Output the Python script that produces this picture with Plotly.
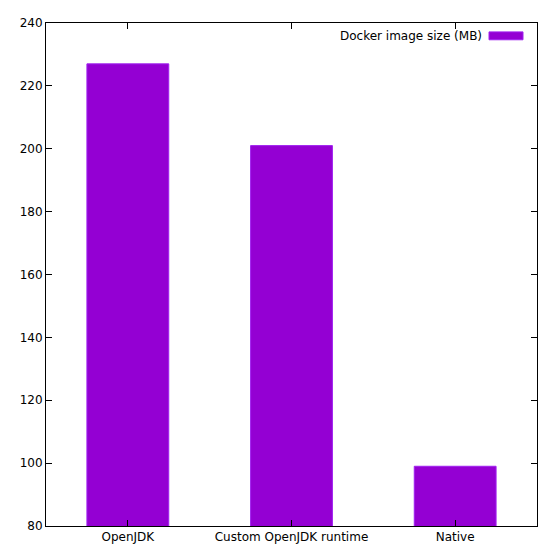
import plotly.graph_objects as go

categories = ["OpenJDK", "Custom OpenJDK runtime", "Native"]
sizes_mb = [227, 201, 99]
y_ticks = [80, 100, 120, 140, 160, 180, 200, 220, 240]
series_name = "Docker image size (MB)"

fig = go.Figure()
fig.add_trace(go.Bar(
    x=list(range(len(categories))), y=sizes_mb, width=0.5, base=0,
    marker=dict(color="#9400D3", line=dict(color="#A020F0", width=1)),
    name=series_name, showlegend=False))

axis_common = dict(showline=True, linecolor="black", linewidth=1, mirror="ticks",
                   ticks="inside", ticklen=6, tickcolor="black", showgrid=False,
                   zeroline=False, tickfont=dict(family="DejaVu Sans", size=12, color="black"))
fig.update_xaxes(range=[-0.5, 2.5], tickvals=list(range(len(categories))),
                 ticktext=categories, **axis_common)
fig.update_yaxes(range=[80, 240], tickvals=y_ticks, **axis_common)

fig.add_annotation(xref="paper", yref="paper", x=(484-46)/491, y=1-(29-16)/510,
                   xanchor="right", yanchor="middle", showarrow=False, text=series_name,
                   font=dict(family="DejaVu Sans", size=12, color="black"))
fig.add_shape(type="rect", xref="paper", yref="paper",
              x0=(489-46)/491, x1=(523-46)/491, y0=1-(33-16)/510, y1=1-(25-16)/510,
              fillcolor="#9400D3", line=dict(color="#A020F0", width=1))

fig.update_layout(width=550, height=548, margin=dict(l=38, r=21, t=8, b=30),
                  plot_bgcolor="white", paper_bgcolor="white",
                  font=dict(family="DejaVu Sans", size=12, color="black"))
fig.write_html("out.html")
